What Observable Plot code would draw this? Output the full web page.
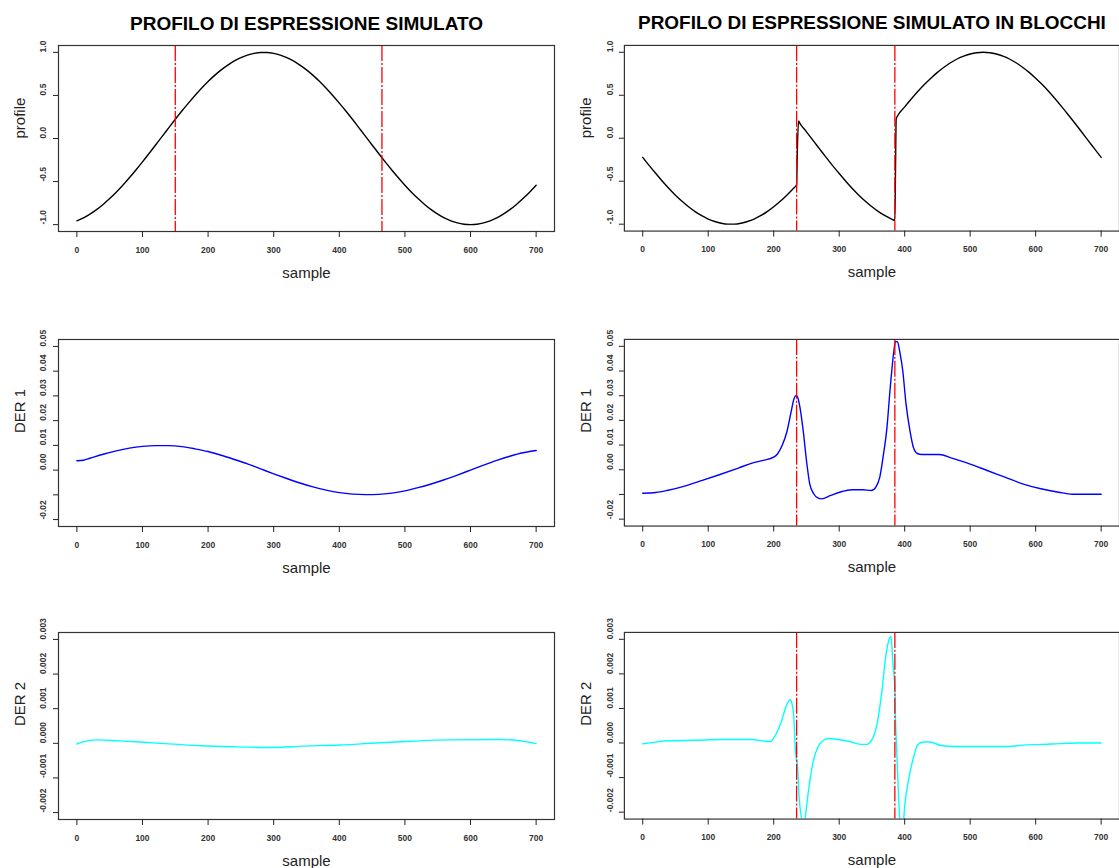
<!DOCTYPE html>
<html><head><meta charset="utf-8">
<script src="https://cdn.jsdelivr.net/npm/d3@7"></script>
<script src="https://cdn.jsdelivr.net/npm/@observablehq/plot@0.6"></script>
<style>
html,body{margin:0;padding:0;background:#fff;}
#root{position:relative;width:1119px;height:868px;overflow:hidden;background:#fff;}
.panel{position:absolute;}
</style></head><body><div id="root"></div>
<script>
// ---- tick values and labels ----
const sampleTicks = [0,100,200,300,400,500,600,700];
const profileTicks = [-1,-0.5,0,0.5,1];
const profileTickLabels = ["-1.0","-0.5","0.0","0.5","1.0"];
const der1Ticks = [-0.02,-0.01,0,0.01,0.02,0.03,0.04,0.05];
const der1TickLabels = ["-0.02","","0.00","0.01","0.02","0.03","0.04","0.05"];
const der2Ticks = [-0.002,-0.001,0,0.001,0.002,0.003];
const der2TickLabels = ["-0.002","-0.001","0.000","0.001","0.002","0.003"];

// ---- change points (red lines) ----
const leftBreaks = [150, 465];
const rightBreaks = [235, 385];

// ---- left column: simulated profile ----
const profLeftX = [0,10,20,30,40,50,60,70,80,90,100,110,120,130,140,150,160,170,180,190,200,210,220,230,240,250,260,270,280,290,300,310,320,330,340,350,360,370,380,390,400,410,420,430,440,450,460,470,480,490,500,510,520,530,540,550,560,570,580,590,600,610,620,630,640,650,660,670,680,690,700];
const profLeftY = [-0.956,-0.922,-0.878,-0.826,-0.766,-0.698,-0.624,-0.543,-0.456,-0.365,-0.271,-0.174,-0.075,0.025,0.124,0.223,0.319,0.411,0.500,0.584,0.662,0.733,0.797,0.853,0.901,0.940,0.969,0.989,0.999,0.999,0.989,0.969,0.940,0.901,0.853,0.797,0.733,0.662,0.584,0.500,0.411,0.319,0.223,0.124,0.025,-0.075,-0.174,-0.271,-0.365,-0.456,-0.543,-0.624,-0.698,-0.766,-0.826,-0.878,-0.922,-0.956,-0.980,-0.995,-1.000,-0.995,-0.980,-0.956,-0.922,-0.878,-0.826,-0.766,-0.698,-0.624,-0.543];

// ---- right column: simulated profile in blocks ----
const profRightX = [0,10,20,30,40,50,60,70,80,90,100,110,120,130,140,150,160,170,180,190,200,210,220,230,235,236,238,240,250,260,270,280,290,300,310,320,330,340,350,360,370,380,385,386,387,390,400,410,420,430,440,450,460,470,480,490,500,510,520,530,540,550,560,570,580,590,600,610,620,630,640,650,660,670,680,690,700];
const profRightY = [-0.223,-0.319,-0.411,-0.500,-0.584,-0.662,-0.733,-0.797,-0.853,-0.901,-0.940,-0.969,-0.989,-0.999,-0.999,-0.989,-0.969,-0.940,-0.901,-0.853,-0.797,-0.733,-0.662,-0.584,-0.543,-0.17,0.20,0.174,0.075,-0.025,-0.124,-0.223,-0.319,-0.411,-0.500,-0.584,-0.662,-0.733,-0.797,-0.853,-0.901,-0.940,-0.956,-0.36,0.223,0.271,0.365,0.456,0.543,0.624,0.698,0.766,0.826,0.878,0.922,0.956,0.980,0.995,1.000,0.995,0.980,0.956,0.922,0.878,0.826,0.766,0.698,0.624,0.543,0.456,0.365,0.271,0.174,0.075,-0.025,-0.124,-0.223];

// ---- first derivative ----
const der1LeftX = [0,10,20,40,60,80,100,120,140,160,180,200,220,240,260,280,300,320,340,360,380,400,420,440,460,480,500,520,540,560,580,600,620,640,660,680,690,700];
const der1LeftY = [0.0038,0.0040,0.0048,0.0064,0.0078,0.0089,0.0096,0.0099,0.0099,0.0095,0.0086,0.0075,0.0060,0.0043,0.0025,0.0005,-0.0015,-0.0034,-0.0052,-0.0068,-0.0081,-0.0091,-0.0097,-0.0099,-0.0098,-0.0093,-0.0084,-0.0071,-0.0056,-0.0039,-0.0020,0.0000,0.0020,0.0039,0.0056,0.0070,0.0075,0.0079];
const der1RightX = [0,20,37,64,91,118,146,167,184,200,206,213,220,226,231,234,236,240,245,250,255,261,268,273,287,303,320,336,349,356,362,367,373,378,383,386,389,393,397,402,408,414,420,426,453,472,499,526,553,580,608,635,656,700];
const der1RightY = [-0.0095,-0.0092,-0.0084,-0.0066,-0.0043,-0.0019,0.0007,0.0027,0.0038,0.0051,0.0065,0.0099,0.0153,0.0227,0.0288,0.0301,0.0297,0.0254,0.0159,0.0038,-0.0057,-0.0097,-0.0115,-0.0118,-0.0104,-0.0089,-0.0081,-0.0081,-0.0084,-0.0070,-0.0030,0.0051,0.0173,0.0335,0.0470,0.0520,0.0518,0.0470,0.0403,0.0268,0.0159,0.0085,0.0065,0.0062,0.0062,0.0047,0.0024,-0.0003,-0.0030,-0.0057,-0.0077,-0.0091,-0.0099,-0.0099];

// ---- second derivative ----
const der2LeftX = [0,9,31,64,102,134,189,238,297,346,401,455,509,564,645,672,700];
const der2LeftY = [-0.00002,0.00004,0.0001,0.00007,0.00003,-0.00001,-0.00007,-0.0001,-0.00012,-0.00008,-0.00005,0.00001,0.00006,0.0001,0.00011,0.00008,-0.00001];
const der2RightX = [0,15,32,80,119,167,184,195,203,211,219,225,228,231,232,234,236,239,242,246,249,254,261,268,276,284,298,314,333,342,352,359,366,371,377,379,382,385,386,388,390,393,397,400,407,414,420,428,439,455,477,559,580,624,662,700];
const der2RightY = [-0.00002,0.00001,0.00006,0.00008,0.0001,0.0001,0.00006,0.00004,0.00024,0.00058,0.00106,0.00125,0.00113,0.00067,0.0002,-0.00038,-0.00058,-0.00163,-0.0021,-0.0024,-0.00202,-0.00125,-0.00048,-0.0001,0.00008,0.00013,0.0001,0.00005,-0.00004,-0.00004,0.00017,0.00067,0.00163,0.0025,0.00303,0.00308,0.00231,0.00159,0.00067,-0.00029,-0.00125,-0.0023,-0.0025,-0.00183,-0.00096,-0.00038,-0.00005,0.00003,0.00003,-0.00007,-0.0001,-0.0001,-0.00006,-0.00003,0,0];

const titles = ["PROFILO DI ESPRESSIONE SIMULATO", "PROFILO DI ESPRESSIONE SIMULATO IN BLOCCHI"];
const xLabel = "sample";
const yLabels = ["profile", "DER 1", "DER 2"];

const FONT = "'Liberation Sans', Arial, Helvetica, sans-serif";
const cols = [{left: 0, width: 560, ml: 58, mr: 6, tickDx: -15}, {left: 560, width: 560, ml: 64, mr: 0, tickDx: -14.5}];
const rows = [
  {top: 0, height: 290, mt: 45, mb: 59, ticks: profileTicks, labels: profileTickLabels, domain: [-1.08, 1.08]},
  {top: 290, height: 290, mt: 49, mb: 54, ticks: der1Ticks, labels: der1TickLabels, domain: [-0.0228, 0.0528]},
  {top: 580, height: 288, mt: 52, mb: 49, ticks: der2Ticks, labels: der2TickLabels, domain: [-0.0022, 0.0032]}
];
const series = [
  [[profLeftX, profLeftY], [profRightX, profRightY]],
  [[der1LeftX, der1LeftY], [der1RightX, der1RightY]],
  [[der2LeftX, der2LeftY], [der2RightX, der2RightY]]
];
const colors = ["#000000", "#0000ff", "#00ffff"];
const breaksByPanel = [[leftBreaks, rightBreaks], [[], rightBreaks], [[], rightBreaks]];

const root = document.getElementById("root");
rows.forEach((r, ri) => {
  cols.forEach((c, ci) => {
    const [xs, ys] = series[ri][ci];
    const data = xs.map((x, i) => ({x, y: ys[i]}));
    const yt = r.ticks.map((v, i) => ({v, t: r.labels[i]}));
    const marks = [
      Plot.line(data, {x: "x", y: "y", stroke: colors[ri], strokeWidth: 1.4, curve: "monotone-x", clip: true}),
      Plot.ruleX(breaksByPanel[ri][ci], {stroke: "#ff0000", strokeWidth: 1.3, strokeDasharray: "16,2,2,2"}),
      Plot.frame({stroke: "#333", strokeWidth: 1.2}),
      Plot.axisX({ticks: sampleTicks, tickSize: 6, tickPadding: 9, fontSize: 8.5, fontWeight: "bold", label: null, tickFormat: d => String(d), stroke: "#222", fill: "#333"}),
      Plot.axisY({ticks: r.ticks, tickSize: 5, tickFormat: () => "", label: null, stroke: "#222"}),
      Plot.text(yt, {y: "v", text: "t", frameAnchor: "left", dx: c.tickDx, rotate: -90, fontSize: 8.5, fontWeight: "bold", fill: "#333", lineAnchor: "middle"}),
      Plot.text([yLabels[ri]], {text: d => d, frameAnchor: "left", dx: -33.5, rotate: -90, lineAnchor: "bottom", fontSize: 15, fill: "#222"}),
      Plot.text([xLabel], {text: d => d, frameAnchor: "bottom", dy: 46, lineAnchor: "bottom", fontSize: 15, fill: "#222"})
    ];
    if (ri === 0) {
      marks.push(Plot.text([titles[ci]], {text: d => d, frameAnchor: "top", dy: -16, lineAnchor: "bottom", fontSize: 19, fontWeight: "bold", fill: "#000"}));
    }
    const svg = Plot.plot({
      width: c.width, height: r.height,
      marginLeft: c.ml, marginRight: c.mr, marginTop: r.mt, marginBottom: r.mb,
      x: {domain: [-28, 728]},
      y: {domain: r.domain},
      style: {fontFamily: FONT, background: "transparent", overflow: "visible"},
      marks
    });
    const div = document.createElement("div");
    div.className = "panel";
    div.style.left = c.left + "px";
    div.style.top = r.top + "px";
    div.appendChild(svg);
    root.appendChild(div);
  });
});
</script></body></html>
